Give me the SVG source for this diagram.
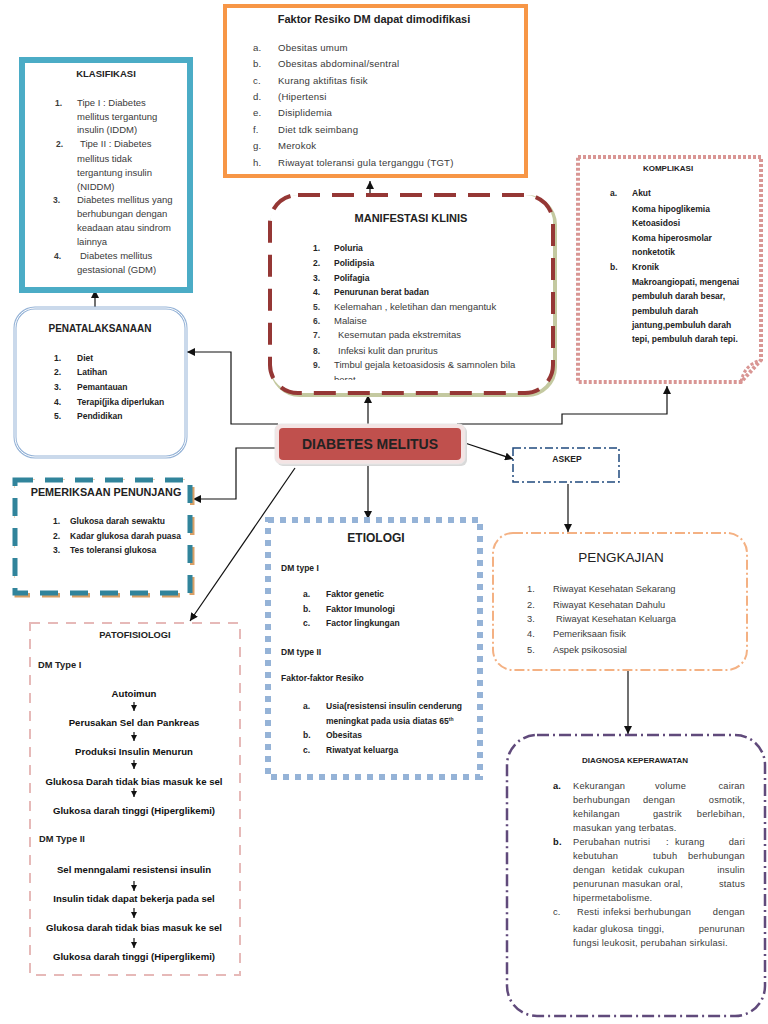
<svg xmlns="http://www.w3.org/2000/svg" width="768" height="1024" viewBox="0 0 768 1024">
<style>
.t{font-family:"Liberation Sans",Arial,sans-serif;fill:#222}
.b{font-weight:bold}
.g{fill:#3a3a3a}
.c{text-anchor:middle}
.e{text-anchor:end}
.k{font-size:9.5px}
.s{font-size:8.5px}
.p{font-size:9.6px;font-weight:bold;text-anchor:middle;fill:#111}
.ln{fill:none;stroke:#111;stroke-width:1.2}
</style>
<defs>
<marker id="ah" viewBox="0 0 10 10" refX="10" refY="5" markerWidth="8" markerHeight="8" markerUnits="userSpaceOnUse" orient="auto">
<path d="M0,0 L10,5 L0,10 Z" fill="#111"/>
</marker>
<marker id="sa" viewBox="0 0 10 10" refX="10" refY="5" markerWidth="6" markerHeight="6" markerUnits="userSpaceOnUse" orient="auto">
<path d="M0,0 L10,5 L0,10 Z" fill="#111"/>
</marker>
<clipPath id="mclip"><rect x="270" y="195" width="283" height="185"/></clipPath>
</defs>
<rect width="768" height="1024" fill="#fff"/>

<g id="connectors">
<path class="ln" d="M370,195 V181" marker-end="url(#ah)"/>
<path class="ln" d="M95,308 V290" marker-end="url(#ah)"/>
<path class="ln" d="M368,427 V395" marker-end="url(#ah)"/>
<path class="ln" d="M278,424 H231 V352 H187" marker-end="url(#ah)"/>
<path class="ln" d="M278,448 H236 V499 H193" marker-end="url(#ah)"/>
<path class="ln" d="M295,468 L190,621" marker-end="url(#ah)"/>
<path class="ln" d="M368,464 V519" marker-end="url(#ah)"/>
<path class="ln" d="M465,443 L513,459" marker-end="url(#ah)"/>
<path class="ln" d="M457,424 H562 V414 H667 V386" marker-end="url(#ah)"/>
<path class="ln" d="M568,484 V532" marker-end="url(#ah)"/>
<path class="ln" d="M628,671 V734" marker-end="url(#ah)"/>
</g>

<g id="faktor-resiko">
<rect x="225" y="6" width="301" height="170" fill="#fff" stroke="#F79646" stroke-width="4"/>
<text class="t b" x="374" y="23" font-size="11" text-anchor="middle">Faktor Resiko DM dapat dimodifikasi</text>
<g class="t g" font-size="9.6" letter-spacing="0.2">
<text x="253" y="51">a.</text><text x="278" y="51">Obesitas umum</text>
<text x="253" y="67">b.</text><text x="278" y="67">Obesitas abdominal/sentral</text>
<text x="253" y="84">c.</text><text x="278" y="84">Kurang aktifitas fisik</text>
<text x="253" y="100">d.</text><text x="278" y="100">(Hipertensi</text>
<text x="253" y="116">e.</text><text x="278" y="116">Disiplidemia</text>
<text x="253" y="133">f.</text><text x="278" y="133">Diet tdk seimbang</text>
<text x="253" y="149">g.</text><text x="278" y="149">Merokok</text>
<text x="253" y="166">h.</text><text x="278" y="166">Riwayat toleransi gula terganggu (TGT)</text>
</g>
</g>

<g id="klasifikasi">
<rect x="22" y="60" width="168" height="230" fill="#fff" stroke="#4BACC6" stroke-width="6"/>
<text class="t b c" x="106" y="77" font-size="9.5">KLASIFIKASI</text>
<g class="t g k">
<text class="b" x="55" y="106" font-size="8.5">1.</text>
<text x="77" y="106">Tipe I : Diabetes</text>
<text x="77" y="120">mellitus tergantung</text>
<text x="77" y="133">insulin (IDDM)</text>
<text class="b" x="56" y="147" font-size="8.5">2.</text>
<text x="80" y="147">Tipe II : Diabetes</text>
<text x="77" y="162">mellitus tidak</text>
<text x="77" y="176">tergantung insulin</text>
<text x="77" y="190">(NIDDM)</text>
<text class="b" x="53" y="203" font-size="8.5">3.</text>
<text x="77" y="203">Diabetes mellitus yang</text>
<text x="77" y="217">berhubungan dengan</text>
<text x="77" y="231">keadaan atau sindrom</text>
<text x="77" y="245">lainnya</text>
<text class="b" x="54" y="259" font-size="8.5">4.</text>
<text x="80" y="259">Diabetes mellitus</text>
<text x="77" y="273">gestasional (GDM)</text>
</g>
</g>

<g id="penatalaksanaan">
<rect x="15" y="308" width="171" height="149" rx="20" fill="#fff" stroke="#95B3D7" stroke-width="3"/>
<rect x="15" y="308" width="171" height="149" rx="20" fill="none" stroke="#fff" stroke-width="1"/>
<text class="t b c" x="100" y="332" font-size="10">PENATALAKSANAAN</text>
<g class="t b s">
<text x="54" y="361">1.</text><text x="77" y="361">Diet</text>
<text x="54" y="375">2.</text><text x="77" y="375">Latihan</text>
<text x="54" y="390">3.</text><text x="77" y="390">Pemantauan</text>
<text x="54" y="405">4.</text><text x="77" y="405">Terapi(jika diperlukan</text>
<text x="54" y="419">5.</text><text x="77" y="419">Pendidikan</text>
</g>
</g>

<g id="pemeriksaan-penunjang">
<rect x="17" y="482" width="175" height="113" fill="none" stroke="#D9A066" stroke-width="5" stroke-dasharray="18 12"/>
<rect x="15" y="480" width="175" height="113" fill="#fff" stroke="#31849B" stroke-width="5" stroke-dasharray="18 12"/>
<text class="t b c" x="106" y="496" font-size="10.8">PEMERIKSAAN PENUNJANG</text>
<g class="t b s">
<text x="53" y="524">1.</text><text x="70" y="524">Glukosa darah sewaktu</text>
<text x="53" y="539">2.</text><text x="70" y="539">Kadar glukosa darah puasa</text>
<text x="53" y="553">3.</text><text x="70" y="553">Tes toleransi glukosa</text>
</g>
</g>

<g id="manifestasi-klinis">
<rect x="272" y="197" width="283" height="198" rx="28" fill="none" stroke="#C4C9A0" stroke-width="4"/>
<rect x="270" y="195" width="283" height="198" rx="28" fill="#fff" stroke="#953735" stroke-width="4" stroke-dasharray="22 12"/>
<text class="t b c" x="411" y="222" font-size="11">MANIFESTASI KLINIS</text>
<g class="t">
<g class="b" font-size="8.5">
<text x="313" y="251">1.</text><text x="334" y="251">Poluria</text>
<text x="313" y="266">2.</text><text x="334" y="266">Polidipsia</text>
<text x="313" y="281">3.</text><text x="334" y="281">Polifagia</text>
<text x="313" y="295">4.</text><text x="334" y="295">Penurunan berat badan</text>
</g>
<g class="g" font-size="9.5">
<text class="b" x="313" y="310" font-size="8.5">5.</text><text x="334" y="310">Kelemahan , keletihan dan mengantuk</text>
<text class="b" x="313" y="324" font-size="8.5">6.</text><text x="334" y="324">Malaise</text>
<text class="b" x="313" y="338" font-size="8.5">7.</text><text x="338" y="338">Kesemutan pada ekstremitas</text>
<text class="b" x="313" y="354" font-size="8.5">8.</text><text x="338" y="354">Infeksi kulit dan pruritus</text>
<text class="b" x="313" y="368" font-size="8.5">9.</text><text x="334" y="368">Timbul gejala ketoasidosis &amp; samnolen bila</text>
<text x="334" y="383" clip-path="url(#mclip)">berat</text>
</g>
</g>
</g>

<g id="komplikasi">
<path d="M578,157 H761 V360 L741,382 H578 Z" fill="#fff" stroke="#D99694" stroke-width="4" stroke-dasharray="3 2"/>
<path d="M741,382 Q744,365 761,360" fill="none" stroke="#D99694" stroke-width="3" stroke-dasharray="3 2"/>
<text class="t b c" x="668" y="171" font-size="8">KOMPLIKASI</text>
<g class="t b" font-size="8.5">
<text x="610" y="196">a.</text><text x="632" y="196">Akut</text>
<text x="632" y="212">Koma hipoglikemia</text>
<text x="632" y="226">Ketoasidosi</text>
<text x="632" y="241">Koma hiperosmolar</text>
<text x="632" y="255">nonketotik</text>
<text x="610" y="270">b.</text><text x="632" y="270">Kronik</text>
<text x="632" y="285">Makroangiopati, mengenai</text>
<text x="632" y="299">pembuluh darah besar,</text>
<text x="632" y="314">pembuluh darah</text>
<text x="632" y="328">jantung,pembuluh darah</text>
<text x="632" y="342">tepi, pembuluh darah tepi.</text>
</g>
</g>

<g id="diabetes-melitus">
<rect x="277" y="426" width="190" height="40" rx="6" fill="#D9D9D9"/>
<rect x="275" y="424" width="190" height="40" rx="6" fill="#F4E4E4" stroke="#E8E8E8" stroke-width="1"/>
<rect x="279" y="428" width="182" height="32" rx="4" fill="#C0504D"/>
<text class="t b c" x="370" y="449" font-size="14" fill="#1a1a1a">DIABETES MELITUS</text>
</g>

<g id="etiologi">
<rect x="268" y="520" width="212" height="257" fill="#fff" stroke="#95B3D7" stroke-width="6" stroke-dasharray="6 6"/>
<text class="t b c" x="376" y="542" font-size="12">ETIOLOGI</text>
<g class="t b s">
<text x="281" y="571">DM type I</text>
<text x="303" y="597">a.</text><text x="326" y="597">Faktor genetic</text>
<text x="303" y="612">b.</text><text x="326" y="612">Faktor Imunologi</text>
<text x="303" y="626">c.</text><text x="326" y="626">Factor lingkungan</text>
<text x="281" y="655">DM  type II</text>
<text x="281" y="681">Faktor-faktor Resiko</text>
<text x="303" y="709">a.</text><text x="326" y="709">Usia(resistensi insulin cenderung</text>
<text x="326" y="724">meningkat pada usia diatas 65<tspan font-size="5" dy="-3">th</tspan></text>
<text x="303" y="738">b.</text><text x="326" y="738">Obesitas</text>
<text x="303" y="753">c.</text><text x="326" y="753">Riwatyat keluarga</text>
</g>
</g>

<g id="askep">
<rect x="513" y="448" width="106" height="34" fill="#fff" stroke="#1F497D" stroke-width="1.5" stroke-dasharray="8 3 2 3"/>
<text class="t b c" x="567" y="462" font-size="8.5">ASKEP</text>
</g>

<g id="pengkajian">
<rect x="493" y="533" width="254" height="137" rx="20" fill="#fff" stroke="#F4B183" stroke-width="2" stroke-dasharray="10 3 2 3"/>
<text class="t c" x="621" y="562" font-size="13.5" fill="#404040">PENGKAJIAN</text>
<g class="t g" font-size="9.3">
<text x="527" y="592">1.</text><text x="553" y="592">Riwayat Kesehatan Sekarang</text>
<text x="527" y="608">2.</text><text x="553" y="608">Riwayat Kesehatan Dahulu</text>
<text x="527" y="622">3.</text><text x="556" y="622">Riwayat Kesehatan Keluarga</text>
<text x="527" y="637">4.</text><text x="553" y="637">Pemeriksaan fisik</text>
<text x="527" y="653">5.</text><text x="553" y="653">Aspek psikososial</text>
</g>
</g>

<g id="diagnosa-keperawatan">
<rect x="507" y="735" width="258" height="281" rx="30" fill="#fff" stroke="#604A7B" stroke-width="2.5" stroke-dasharray="12 4 2 4"/>
<text class="t b c" x="635" y="763" font-size="8">DIAGNOSA KEPERAWATAN</text>
<g class="t g" font-size="9.3" letter-spacing="0.2">
<text class="b" x="553" y="789" fill="#111">a.</text>
<text x="573" y="789">Kekurangan</text><text x="655" y="789">volume</text><text class="e" x="745" y="789">cairan</text>
<text x="573" y="803">berhubungan</text><text x="643" y="803">dengan</text><text class="e" x="745" y="803">osmotik,</text>
<text x="573" y="817">kehilangan</text><text x="653" y="817">gastrik</text><text class="e" x="745" y="817">berlebihan,</text>
<text x="573" y="831">masukan yang terbatas.</text>
<text class="b" x="553" y="845" fill="#111">b.</text>
<text x="573" y="845">Perubahan</text><text x="624" y="845">nutrisi</text><text x="666" y="845">:</text><text x="675" y="845">kurang</text><text class="e" x="745" y="845">dari</text>
<text x="573" y="859">kebutuhan</text><text x="653" y="859">tubuh</text><text class="e" x="745" y="859">berhubungan</text>
<text x="573" y="873">dengan</text><text x="612" y="873">ketidak</text><text x="648" y="873">cukupan</text><text class="e" x="745" y="873">insulin</text>
<text x="573" y="887">penurunan</text><text x="622" y="887">masukan</text><text x="664" y="887">oral,</text><text class="e" x="745" y="887">status</text>
<text x="573" y="901">hipermetabolisme.</text>
<text x="553" y="915">c.</text>
<text x="577" y="915">Resti</text><text x="603" y="915">infeksi</text><text x="634" y="915">berhubungan</text><text class="e" x="745" y="915">dengan</text>
<text x="573" y="932">kadar</text><text x="600" y="932">glukosa</text><text x="638" y="932">tinggi,</text><text class="e" x="745" y="932">penurunan</text>
<text x="573" y="946">fungsi leukosit, perubahan sirkulasi.</text>
</g>
</g>

<g id="patofisiologi">
<rect x="30" y="623" width="210" height="352" fill="#fff" stroke="#E6B9B8" stroke-width="2" stroke-dasharray="10 8"/>
<text class="t b c" x="135" y="638" font-size="9.3">PATOFISIOLOGI</text>
<text class="t b" x="38" y="668" font-size="9.3" fill="#111">DM Type I</text>
<text class="t p" x="134" y="697">Autoimun</text>
<text class="t p" x="134" y="726">Perusakan Sel dan Pankreas</text>
<text class="t p" x="134" y="755">Produksi Insulin Menurun</text>
<text class="t p" x="134" y="785">Glukosa Darah tidak bias masuk ke sel</text>
<text class="t p" x="134" y="814">Glukosa darah tinggi (Hiperglikemi)</text>
<text class="t b" x="39" y="842" font-size="9.3" fill="#111">DM Type II</text>
<text class="t p" x="134" y="873">Sel menngalami resistensi insulin</text>
<text class="t p" x="134" y="902">Insulin tidak dapat bekerja pada sel</text>
<text class="t p" x="134" y="931">Glukosa darah tidak bias masuk ke sel</text>
<text class="t p" x="134" y="960">Glukosa darah tinggi (Hiperglikemi)</text>
<g class="ln">
<path d="M134,702 V711" marker-end="url(#sa)"/>
<path d="M134,732 V741" marker-end="url(#sa)"/>
<path d="M134,760 V769" marker-end="url(#sa)"/>
<path d="M134,788 V797" marker-end="url(#sa)"/>
<path d="M134,881 V891" marker-end="url(#sa)"/>
<path d="M134,908 V918" marker-end="url(#sa)"/>
<path d="M134,938 V948" marker-end="url(#sa)"/>
</g>
</g>
</svg>
